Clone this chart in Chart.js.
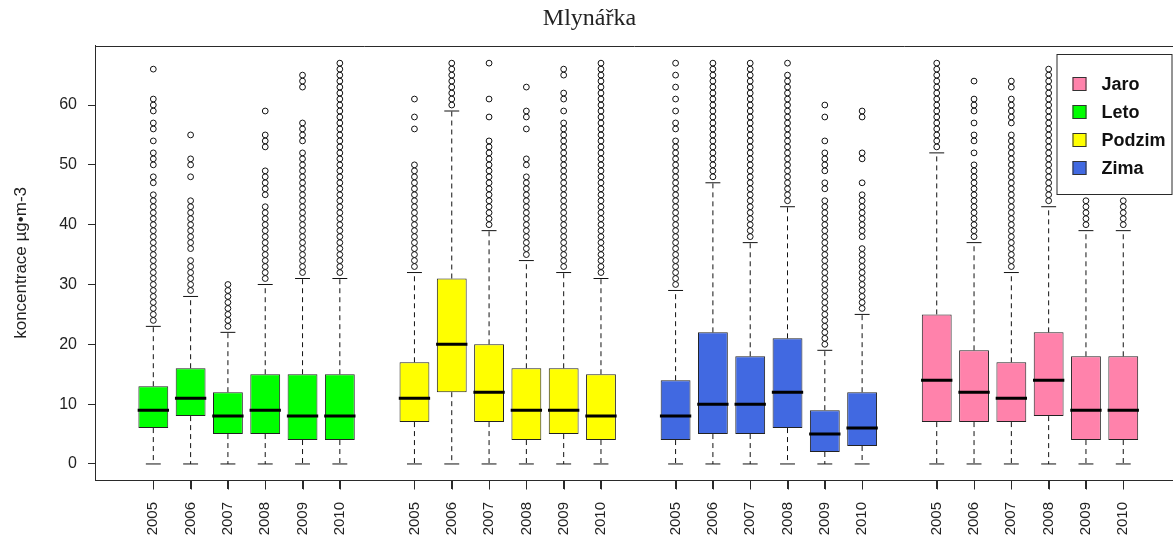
<!DOCTYPE html>
<html><head><meta charset="utf-8">
<script src="https://cdn.jsdelivr.net/npm/chart.js@4.4.1/dist/chart.umd.min.js"></script>
<style>html,body{margin:0;padding:0;background:#fff;overflow:hidden}#wrap{position:relative;width:1173px;height:546px;overflow:hidden}</style>
</head><body><div id="wrap"><canvas id="c" width="1179" height="546"></canvas></div>
<script>
const chartTitle = 'Mlynářka';
const yAxisTitle = 'koncentrace µg•m-3';
const years = ['2005','2006','2007','2008','2009','2010'];
const seasons = ['Leto','Podzim','Zima','Jaro'];
const legendOrder = ['Jaro','Leto','Podzim','Zima'];
const seasonColors = {Jaro:'#FF82AB', Leto:'#00FF00', Podzim:'#FFFF00', Zima:'#4169E1'};
const yTicks = [0,10,20,30,40,50,60];

const lowLeto = [0,0,0,0,0,0];
const q1Leto = [6,8,5,5,4,4];
const medLeto = [9,11,8,9,8,8];
const q3Leto = [13,16,12,15,15,15];
const highLeto = [23,28,22,30,31,31];
const outLeto = [
  [24,25,26,27,28,29,30,31,32,33,34,35,36,37,38,39,40,41,42,43,44,45,47,48,50,51,52,54,56,57,59,60,61,66],
  [29,30,31,32,33,34,36,37,38,39,40,41,42,43,44,48,50,51,55],
  [23,24,25,26,27,28,29,30],
  [31,32,33,34,35,36,37,38,39,40,41,42,43,45,46,47,48,49,53,54,55,59],
  [32,33,34,35,36,37,38,39,40,41,42,43,44,45,46,47,48,49,50,51,52,54,55,56,57,63,64,65],
  [32,33,34,35,36,37,38,39,40,41,42,43,44,45,46,47,48,49,50,51,52,53,54,55,56,57,58,59,60,61,62,63,64,65,66,67]
];

const lowPodzim = [0,0,0,0,0,0];
const q1Podzim = [7,12,7,4,5,4];
const medPodzim = [11,20,12,9,9,8];
const q3Podzim = [17,31,20,16,16,15];
const highPodzim = [32,59,39,34,32,31];
const outPodzim = [
  [33,34,35,36,37,38,39,40,41,42,43,44,45,46,47,48,49,50,56,58,61],
  [60,61,62,63,64,65,66,67],
  [40,41,42,43,44,45,46,47,48,49,50,51,52,53,54,58,61,67],
  [35,36,37,38,39,40,41,42,43,44,45,46,47,48,50,51,56,58,59,63],
  [33,34,35,36,37,38,39,40,41,42,43,44,45,46,47,48,49,50,51,52,53,54,55,56,57,59,61,62,65,66],
  [32,33,34,35,36,37,38,39,40,41,42,43,44,45,46,47,48,49,50,51,52,53,54,55,56,57,58,59,60,61,62,63,64,65,66,67]
];

const lowZima = [0,0,0,0,0,0];
const q1Zima = [4,5,5,6,2,3];
const medZima = [8,10,10,12,5,6];
const q3Zima = [14,22,18,21,9,12];
const highZima = [29,47,37,43,19,25];
const outZima = [
  [30,31,32,33,34,35,36,37,38,39,40,41,42,43,44,45,46,47,48,49,50,51,52,53,54,56,57,59,61,63,65,67],
  [48,49,50,51,52,53,54,55,56,57,58,59,60,61,62,63,64,65,66,67],
  [38,39,40,41,42,43,44,45,46,47,48,49,50,51,52,53,54,55,56,57,58,59,60,61,62,63,64,65,66,67],
  [44,45,46,47,48,49,50,51,52,53,54,55,56,57,58,59,60,61,62,63,64,65,67],
  [20,21,22,23,24,25,26,27,28,29,30,31,32,33,34,35,36,37,38,39,40,41,42,43,44,46,47,49,50,51,52,54,58,60],
  [26,27,28,29,30,31,32,33,34,35,36,38,39,40,41,42,43,44,45,47,51,52,58,59]
];

const lowJaro = [0,0,0,0,0,0];
const q1Jaro = [7,7,7,8,4,4];
const medJaro = [14,12,11,14,9,9];
const q3Jaro = [25,19,17,22,18,18];
const highJaro = [52,37,32,43,39,39];
const outJaro = [
  [53,54,55,56,57,58,59,60,61,62,63,64,65,66,67],
  [38,39,40,41,42,43,44,45,46,47,48,49,50,52,54,55,57,59,60,61,64],
  [33,34,35,36,37,38,39,40,41,42,43,44,45,46,47,48,49,50,51,52,53,54,55,57,58,59,60,61,63,64],
  [44,45,46,47,48,49,50,51,52,53,54,55,56,57,58,59,60,61,62,63,64,65,66],
  [40,41,42,43,44],
  [40,41,42,43,44]
];

const stats = {
  Leto:{lo:lowLeto,q1:q1Leto,med:medLeto,q3:q3Leto,hi:highLeto,out:outLeto},
  Podzim:{lo:lowPodzim,q1:q1Podzim,med:medPodzim,q3:q3Podzim,hi:highPodzim,out:outPodzim},
  Zima:{lo:lowZima,q1:q1Zima,med:medZima,q3:q3Zima,hi:highZima,out:outZima},
  Jaro:{lo:lowJaro,q1:q1Jaro,med:medJaro,q3:q3Jaro,hi:highJaro,out:outJaro}
};

const capHalf = 0.2, medHalf = 0.42;
const positions = [], tickLabels = [];
const boxData = [], boxColors = [], whiskerData = [], capData = [], medData = [], outData = [];
seasons.forEach((s, g) => {
  const st = stats[s];
  years.forEach((yr, i) => {
    const p = g * (years.length + 1) + i + 1;
    positions.push(p); tickLabels.push(yr);
    boxData.push({x:p, y:[st.q1[i], st.q3[i]]});
    boxColors.push(seasonColors[s]);
    whiskerData.push({x:p,y:st.q3[i]},{x:p,y:st.hi[i]},{x:p,y:null},{x:p,y:st.q1[i]},{x:p,y:st.lo[i]},{x:p,y:null});
    capData.push({x:p-capHalf,y:st.hi[i]},{x:p+capHalf,y:st.hi[i]},{x:p,y:null},{x:p-capHalf,y:st.lo[i]},{x:p+capHalf,y:st.lo[i]},{x:p,y:null});
    medData.push({x:p-medHalf,y:st.med[i]},{x:p+medHalf,y:st.med[i]},{x:p,y:null});
    st.out[i].forEach(v => outData.push({x:p,y:v}));
  });
});

const frameColor = '#2a2a2a';
const textColor = '#222';
const sans = '"Liberation Sans", Arial, sans-serif';
const visibleWidth = 1173;
const xTickLength = 9;

const framePlugin = {
  id:'frame',
  afterDatasetsDraw(chart){
    const ctx = chart.ctx, a = chart.chartArea, xs = chart.scales.x;
    ctx.save();
    ctx.strokeStyle = frameColor; ctx.lineWidth = 1;
    const top = Math.round(a.top) + 0.5, bottom = Math.round(a.bottom) + 0.5;
    ctx.beginPath(); ctx.moveTo(a.left, top); ctx.lineTo(a.right, top); ctx.stroke();
    ctx.beginPath();
    positions.forEach(p => {
      const px = Math.round(xs.getPixelForValue(p)) + 0.5;
      ctx.moveTo(px, bottom); ctx.lineTo(px, bottom + xTickLength);
    });
    ctx.stroke();
    const right = Math.min(a.right, visibleWidth) - 0.5, left = right - 116, ltop = Math.round(a.top) + 8, h = 140;
    ctx.fillStyle = '#fff'; ctx.fillRect(left, ltop, right-left, h);
    ctx.strokeStyle = frameColor; ctx.strokeRect(left+0.5, ltop+0.5, right-left-1, h);
    ctx.font = 'bold 18px ' + sans; ctx.textBaseline = 'middle'; ctx.textAlign = 'left';
    legendOrder.forEach((name, i) => {
      const cy = ltop + 30 + i*28;
      ctx.fillStyle = seasonColors[name]; ctx.fillRect(left+16, cy-7, 14, 14);
      ctx.strokeStyle = '#333'; ctx.strokeRect(left+16.5, cy-6.5, 13, 13);
      ctx.fillStyle = '#111'; ctx.fillText(name, left+45, cy+1);
    });
    ctx.restore();
  }
};

new Chart(document.getElementById('c'), {
  type:'bar',
  data:{datasets:[
    {type:'scatter', data:outData, showLine:false, pointStyle:'circle', pointRadius:2.9, pointBorderWidth:1,
     pointBackgroundColor:'rgba(0,0,0,0)', pointBorderColor:'#111', order:1},
    {type:'line', data:medData, borderColor:'#000', borderWidth:3, pointRadius:0, spanGaps:false, borderCapStyle:'butt', order:2},
    {type:'line', data:capData, borderColor:'#111', borderWidth:1, pointRadius:0, spanGaps:false, order:3},
    {type:'line', data:whiskerData, borderColor:'#111', borderWidth:1, borderDash:[5,4], pointRadius:0, spanGaps:false, order:4},
    {type:'bar', data:boxData, backgroundColor:boxColors, borderColor:'#222', borderWidth:1, borderSkipped:false,
     barPercentage:0.8, categoryPercentage:1, grouped:false, order:5}
  ]},
  options:{
    responsive:false, animation:false, events:[],
    layout:{padding:0},
    plugins:{
      legend:{display:false}, tooltip:{enabled:false},
      title:{display:true, text:chartTitle, color:textColor,
             font:{family:'"Liberation Serif", "Times New Roman", serif', size:24, weight:'normal'},
             padding:{top:4, bottom:13}}
    },
    scales:{
      x:{type:'linear', offset:false, min:-0.563, max:28.36,
         afterBuildTicks:s => { s.ticks = positions.map(v => ({value:v})); },
         afterFit:s => { s.height = 66; },
         ticks:{autoSkip:false, minRotation:90, maxRotation:90, padding:13, color:textColor,
                font:{family:sans, size:15}, callback:(v, i) => tickLabels[i]},
         grid:{offset:false, drawOnChartArea:false, drawTicks:true, tickLength:xTickLength, color:frameColor},
         border:{display:true, color:frameColor}},
      y:{min:-2.68, max:69.9,
         afterBuildTicks:s => { s.ticks = yTicks.map(v => ({value:v})); },
         afterFit:s => { s.width = 95; },
         ticks:{padding:11, color:textColor, font:{family:sans, size:16}, callback:v => String(v)},
         grid:{drawOnChartArea:false, drawTicks:true, tickLength:7, color:frameColor},
         border:{display:true, color:frameColor},
         title:{display:true, text:yAxisTitle, color:textColor, font:{family:sans, size:17}, padding:{top:11, bottom:0}}}
    }
  },
  plugins:[framePlugin]
});
</script></body></html>
